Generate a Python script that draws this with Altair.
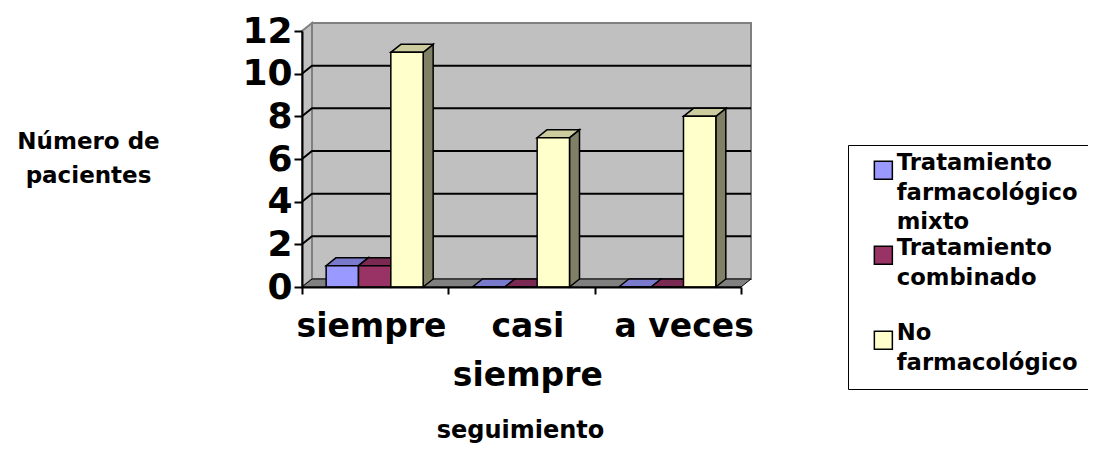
import json
import altair as alt
import pandas as pd

# ---------------- data ----------------
categories = ["siempre", "casi siempre", "a veces"]
category_lines = [["siempre"], ["casi", "siempre"], ["a veces"]]
series = ["Tratamiento farmacológico mixto", "Tratamiento combinado", "No farmacológico"]
series_lines = [["Tratamiento", "farmacológico", "mixto"],
                ["Tratamiento", "combinado", " "],
                ["No", "farmacológico"]]
mixto = [1, 0, 0]
combinado = [1, 0, 0]
no_farmacologico = [11, 7, 8]
y_ticks = [0, 2, 4, 6, 8, 10, 12]

front_colors = ["#9999FF", "#993366", "#FFFFCC"]
top_colors = ["#7A7ACC", "#7A2952", "#CCCC9F"]
side_colors = ["#4D4D80", "#4D1A33", "#808066"]

# ---------------- geometry (styling) ----------------
W, H = 439, 256
Y_MAX = 12
N = len(categories)
DX_PX, DY_PX = 10, 8
ddx = DX_PX / (W / N)
ddy = DY_PX / (H / Y_MAX)
GAP = 0.165
BW = 0.221
FONT = "DejaVu Sans"

values = [mixto, combinado, no_farmacologico]

fronts, sides, tops = [], [], []
for i, cat in enumerate(categories):
    for j, s in enumerate(series):
        v = values[j][i]
        x0 = i + GAP + j * BW
        x1 = x0 + BW
        bid = f"{i}-{j}"
        fronts.append(dict(bar=bid, series=s, x=x0, x2=x1, y=0, y2=v))
        sides.append(dict(bar=bid, series=s, x=x1, y=0, y2=v))
        sides.append(dict(bar=bid, series=s, x=x1 + ddx, y=ddy, y2=v + ddy))
        tops.append(dict(bar=bid, series=s, y=v, x=x0, x2=x1))
        tops.append(dict(bar=bid, series=s, y=v + ddy, x=x0 + ddx, x2=x1 + ddx))

fronts = pd.DataFrame(fronts)
sides = pd.DataFrame(sides)
tops = pd.DataFrame(tops)

back_wall = pd.DataFrame([dict(x=ddx, x2=N + ddx, y=ddy, y2=Y_MAX + ddy)])
left_wall = pd.DataFrame([dict(x=0, y=0, y2=Y_MAX), dict(x=ddx, y=ddy, y2=Y_MAX + ddy)])
floor = pd.DataFrame([dict(y=0, x=0, x2=N), dict(y=ddy, x=ddx, x2=N + ddx)])

grid_rows = []
for t in y_ticks[1:-1]:
    grid_rows.append(dict(g=t, k=0, x=0, y=t))
    grid_rows.append(dict(g=t, k=1, x=ddx, y=t + ddy))
    grid_rows.append(dict(g=t, k=2, x=N + ddx, y=t + ddy))
grid = pd.DataFrame(grid_rows)

xs = alt.Scale(domain=[0, N], nice=False, zero=False)
ys = alt.Scale(domain=[0, Y_MAX], nice=False, zero=True)

cat_expr = json.dumps(category_lines + [""]) + "[datum.value]"
leg_expr = ""
for s, lines in zip(series, series_lines):
    leg_expr += f"datum.label == {json.dumps(s)} ? {json.dumps(lines)} : "
leg_expr += "datum.label"

x_axis = alt.Axis(
    values=list(range(N + 1)), labelExpr=cat_expr,
    labelOffset={"condition": [{"test": "datum.value == 1", "value": 79},
                               {"test": "datum.value == 2", "value": 89}],
                 "value": 69},
    labelFont=FONT, labelFontWeight="bold", labelFontSize=33, labelColor="black",
    labelLineHeight=49, labelPadding=16, labelFlush=False, labelOverlap=False,
    labelBound=False, labelBaseline="top",
    tickSize=7, tickColor="black", tickWidth=2, domainColor="black", domainWidth=2,
    grid=False, zindex=1,
    title="seguimiento", titleFont=FONT, titleFontWeight="bold", titleFontSize=24,
    titleColor="black", titleX=218, titleY=150, titleAlign="center",
    titleBaseline="alphabetic",
)
y_axis = alt.Axis(
    values=y_ticks, labelFont=FONT, labelFontWeight="bold", labelFontSize=36,
    labelColor="black", labelPadding=2, tickSize=8, tickColor="black", tickWidth=2,
    domainColor="black", domainWidth=2, grid=False, zindex=1,
    title=["Número de", "pacientes"], titleFont=FONT, titleFontWeight="bold",
    titleFontSize=23, titleColor="black", titleAngle=0, titleX=-214, titleY=117,
    titleAlign="center", titleBaseline="alphabetic", titleLineHeight=34,
)


def X(field, **kw):
    return alt.X(field, scale=xs, axis=x_axis, **kw)


def Y(field, **kw):
    return alt.Y(field, scale=ys, axis=y_axis, **kw)


wall_layer = alt.Chart(back_wall).mark_rect(fill="#C0C0C0", stroke="#808080", strokeWidth=2).encode(
    x=X("x:Q"), x2="x2:Q", y=Y("y:Q"), y2="y2:Q",
)
left_layer = alt.Chart(left_wall).mark_area(orient="vertical", fill="#C0C0C0", stroke="#808080", strokeWidth=2).encode(
    x=X("x:Q"), y=Y("y:Q", stack=None), y2="y2:Q",
)
floor_layer = alt.Chart(floor).mark_area(orient="horizontal", fill="#808080", stroke="black", strokeWidth=1).encode(
    y=Y("y:Q"), x=X("x:Q", stack=None), x2="x2:Q",
)
grid_layer = alt.Chart(grid).mark_line(color="black", strokeWidth=2).encode(
    x=X("x:Q"), y=Y("y:Q"), detail="g:N", order="k:Q",
)
side_layer = alt.Chart(sides).mark_area(orient="vertical", stroke="black", strokeWidth=1.5).encode(
    x=X("x:Q"), y=Y("y:Q", stack=None), y2="y2:Q",
    detail="bar:N",
    fill=alt.Fill("series:N", scale=alt.Scale(domain=series, range=side_colors), legend=None),
)
top_layer = alt.Chart(tops).mark_area(orient="horizontal", stroke="black", strokeWidth=1.5).encode(
    y=Y("y:Q"), x=X("x:Q", stack=None), x2="x2:Q",
    detail="bar:N",
    fill=alt.Fill("series:N", scale=alt.Scale(domain=series, range=top_colors), legend=None),
)
front_layer = alt.Chart(fronts).mark_rect(stroke="black", strokeWidth=1.5).encode(
    x=X("x:Q"), x2="x2:Q", y=Y("y:Q"), y2="y2:Q",
    fill=alt.Fill("series:N", scale=alt.Scale(domain=series, range=front_colors),
                  sort=series,
                  legend=alt.Legend(
                      orient="none", legendX=546, legendY=114, title=None,
                      strokeColor="black", fillColor="white", padding=14,
                      symbolType="square", symbolSize=324, symbolStrokeColor="black",
                      symbolStrokeWidth=1.5, symbolOffset=10,
                      labelFont=FONT, labelFontWeight="bold", labelFontSize=22.7,
                      labelColor="black", labelLimit=400, labelExpr=leg_expr,
                      labelBaseline="alphabetic", labelOffset=2,
                      rowPadding=2,
                  )),
)

chart = alt.layer(
    wall_layer, left_layer, floor_layer, grid_layer, side_layer, top_layer, front_layer
).resolve_scale(fill="independent").properties(
    width=W, height=H,
    autosize=alt.AutoSizeParams(type="none"),
    padding={"left": 294, "top": 23, "right": 347, "bottom": 157},
    background="white",
).configure(
    style={"guide-label": {"lineHeight": 29.5}},
).configure_view(stroke=None)

chart.save("out.html", embed_options={"renderer": "svg", "actions": False})
